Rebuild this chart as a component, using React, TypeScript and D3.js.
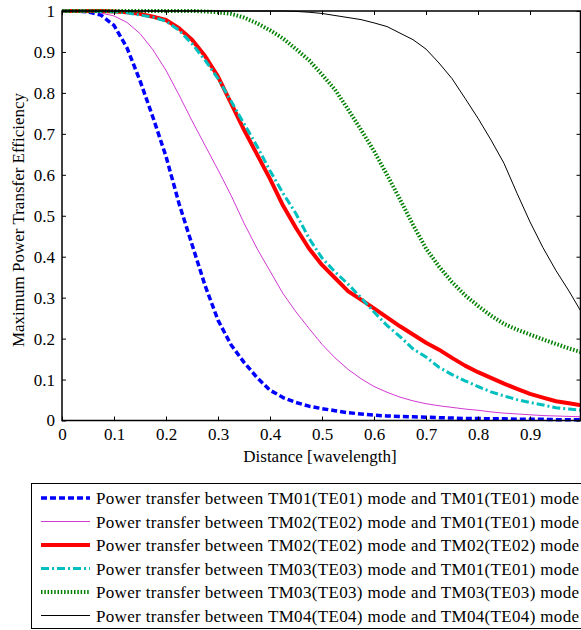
import React, { useRef, useEffect } from 'react';
import * as d3 from 'd3';

// distance in wavelengths
const distance = [
  0, 0.025, 0.05, 0.075, 0.1, 0.125, 0.15, 0.175, 0.2, 0.225, 0.25, 0.275, 0.3, 0.325,
  0.35, 0.375, 0.4, 0.425, 0.45, 0.475, 0.5, 0.525, 0.55, 0.575, 0.6, 0.625, 0.65, 0.675,
  0.7, 0.725, 0.75, 0.775, 0.8, 0.825, 0.85, 0.875, 0.9, 0.925, 0.95, 0.975, 1,
];

const tm01ToTm01 = [
  1, 1, 0.998, 0.99, 0.965, 0.91, 0.83, 0.74, 0.645, 0.53, 0.43, 0.33, 0.245, 0.185,
  0.142, 0.105, 0.074, 0.056, 0.044, 0.035, 0.029, 0.024, 0.019, 0.016, 0.013, 0.011, 0.01, 0.009,
  0.008, 0.007, 0.006, 0.005, 0.005, 0.004, 0.004, 0.003, 0.003, 0.003, 0.002, 0.002, 0.002,
];
const tm02ToTm01 = [
  1, 1, 0.998, 0.995, 0.988, 0.972, 0.945, 0.905, 0.855, 0.795, 0.732, 0.672, 0.612, 0.55,
  0.482, 0.42, 0.365, 0.31, 0.265, 0.225, 0.186, 0.153, 0.125, 0.102, 0.083, 0.069, 0.057, 0.048,
  0.041, 0.036, 0.032, 0.028, 0.025, 0.021, 0.018, 0.016, 0.014, 0.012, 0.011, 0.01, 0.009,
];
const tm02ToTm02 = [
  1, 1, 1, 1, 0.999, 0.997, 0.993, 0.986, 0.978, 0.958, 0.93, 0.89, 0.84, 0.775,
  0.71, 0.65, 0.59, 0.525, 0.47, 0.42, 0.38, 0.348, 0.316, 0.295, 0.274, 0.252, 0.23, 0.21,
  0.19, 0.173, 0.153, 0.134, 0.118, 0.104, 0.09, 0.077, 0.065, 0.056, 0.047, 0.042, 0.037,
];
const tm03ToTm01 = [
  1, 1, 1, 0.999, 0.998, 0.996, 0.99, 0.985, 0.975, 0.953, 0.92, 0.88, 0.835, 0.78,
  0.725, 0.67, 0.61, 0.555, 0.505, 0.445, 0.397, 0.363, 0.333, 0.3, 0.265, 0.232, 0.205, 0.175,
  0.155, 0.13, 0.112, 0.097, 0.083, 0.07, 0.06, 0.051, 0.044, 0.038, 0.031, 0.028, 0.025,
];
const tm03ToTm03 = [
  1, 1, 1, 1, 1, 1, 1, 1, 1, 1, 1, 0.999, 0.997, 0.993,
  0.984, 0.97, 0.953, 0.933, 0.907, 0.88, 0.845, 0.808, 0.76, 0.71, 0.658, 0.6, 0.54, 0.478,
  0.42, 0.376, 0.338, 0.306, 0.28, 0.256, 0.236, 0.222, 0.21, 0.198, 0.187, 0.176, 0.166,
];
const tm04ToTm04 = [
  1, 1, 1, 1, 1, 1, 1, 1, 1, 1, 1, 1, 1, 1,
  1, 1, 1, 1, 0.999, 0.997, 0.994, 0.989, 0.984, 0.979, 0.971, 0.962, 0.946, 0.93,
  0.907, 0.873, 0.835, 0.787, 0.738, 0.685, 0.628, 0.555, 0.485, 0.422, 0.366, 0.316, 0.262,
];

const legendLabels = [
  'Power transfer between TM01(TE01) mode and TM01(TE01) mode',
  'Power transfer between TM02(TE02) mode and TM01(TE01) mode',
  'Power transfer between TM02(TE02) mode and TM02(TE02) mode',
  'Power transfer between TM03(TE03) mode and TM01(TE01) mode',
  'Power transfer between TM03(TE03) mode and TM03(TE03) mode',
  'Power transfer between TM04(TE04) mode and TM04(TE04) mode',
];

const xTicks = [0, 0.1, 0.2, 0.3, 0.4, 0.5, 0.6, 0.7, 0.8, 0.9];
const yTicks = [0, 0.1, 0.2, 0.3, 0.4, 0.5, 0.6, 0.7, 0.8, 0.9, 1];

const series = [
  { values: tm01ToTm01, color: '#0000ff', width: 3.5, dash: '6 3' },
  { values: tm02ToTm01, color: '#cc22cc', width: 0.9, dash: null },
  { values: tm02ToTm02, color: '#ff0000', width: 4, dash: null },
  { values: tm03ToTm01, color: '#00bfbf', width: 3, dash: '8 3 2 3' },
  { values: tm03ToTm03, color: '#008000', width: 4, dash: '1.5 1.8' },
  { values: tm04ToTm04, color: '#000000', width: 1, dash: null },
];

const FONT = '"Liberation Serif", "Times New Roman", serif';

const App = () => {
  const ref = useRef<SVGSVGElement>(null);

  useEffect(() => {
    const svg = d3.select(ref.current);
    svg.selectAll('*').remove();

    const left = 62, right = 580.5, top = 11, bottom = 420.5;
    const x = d3.scaleLinear().domain([0, 1]).range([62, 582]);
    const y = d3.scaleLinear().domain([0, 1]).range([bottom, top]);

    svg.append('rect').attr('width', 581).attr('height', 630).attr('fill', 'white');

    svg.append('defs').append('clipPath').attr('id', 'plot-clip')
      .append('rect')
      .attr('x', left).attr('y', top - 3)
      .attr('width', right - left).attr('height', bottom - top + 6);

    const line = d3.line<number>()
      .x((d, i) => x(distance[i]))
      .y(d => y(d));

    const plot = svg.append('g').attr('clip-path', 'url(#plot-clip)');
    series.forEach(s => {
      plot.append('path')
        .datum(s.values)
        .attr('d', line)
        .attr('fill', 'none')
        .attr('stroke', s.color)
        .attr('stroke-width', s.width)
        .attr('stroke-dasharray', s.dash)
        .attr('stroke-linejoin', 'round');
    });

    // axes, ticks pointing inward on all four sides
    const styleAxis = g => {
      g.select('.domain').remove();
      g.selectAll('line').attr('stroke', '#000').attr('stroke-width', 1);
      g.selectAll('text').attr('font-family', FONT).attr('font-size', 17).attr('fill', '#000');
    };

    svg.append('g')
      .attr('transform', `translate(0,${bottom})`)
      .call(d3.axisBottom(x).tickValues(xTicks).tickSizeInner(-4).tickSizeOuter(0).tickPadding(7).tickFormat(d => String(d)))
      .call(styleAxis);
    svg.append('g')
      .attr('transform', `translate(0,${top})`)
      .call(d3.axisTop(x).tickValues(xTicks).tickSizeInner(-4).tickSizeOuter(0).tickFormat(() => ''))
      .call(styleAxis);
    svg.append('g')
      .attr('transform', `translate(${left},0)`)
      .call(d3.axisLeft(y).tickValues(yTicks).tickSizeInner(-4).tickSizeOuter(0).tickPadding(7).tickFormat(d => String(d)))
      .call(styleAxis);
    svg.append('g')
      .attr('transform', `translate(${right},0)`)
      .call(d3.axisRight(y).tickValues(yTicks).tickSizeInner(-4).tickSizeOuter(0).tickFormat(() => ''))
      .call(styleAxis);

    svg.append('rect')
      .attr('x', left).attr('y', top)
      .attr('width', right - left).attr('height', bottom - top)
      .attr('fill', 'none').attr('stroke', '#000').attr('stroke-width', 1.5);

    svg.append('text')
      .attr('x', 320).attr('y', 462)
      .attr('text-anchor', 'middle')
      .attr('font-family', FONT).attr('font-size', 17)
      .text('Distance [wavelength]');

    svg.append('text')
      .attr('transform', 'translate(24,220) rotate(-90)')
      .attr('text-anchor', 'middle')
      .attr('font-family', FONT).attr('font-size', 17)
      .text('Maximum Power Transfer Efficiency');

    // legend
    const legend = svg.append('g');
    legend.append('rect')
      .attr('x', 31.5).attr('y', 483.5).attr('width', 600).attr('height', 145)
      .attr('fill', 'white').attr('stroke', '#000').attr('stroke-width', 1);

    const rowY = d3.scalePoint<number>().domain(d3.range(legendLabels.length)).range([498, 615.5]);
    series.forEach((s, i) => {
      const yy = rowY(i);
      legend.append('line')
        .attr('x1', 41).attr('x2', 90).attr('y1', yy).attr('y2', yy)
        .attr('stroke', s.color)
        .attr('stroke-width', s.width)
        .attr('stroke-dasharray', s.dash);
      legend.append('text')
        .attr('x', 96).attr('y', yy + 6)
        .attr('font-family', FONT).attr('font-size', 17)
        .attr('textLength', 483).attr('lengthAdjust', 'spacing')
        .text(legendLabels[i]);
    });
  }, []);

  return <svg ref={ref} width={581} height={630} style={{ position: 'absolute', left: 0, top: 0 }} />;
};

export default App;
